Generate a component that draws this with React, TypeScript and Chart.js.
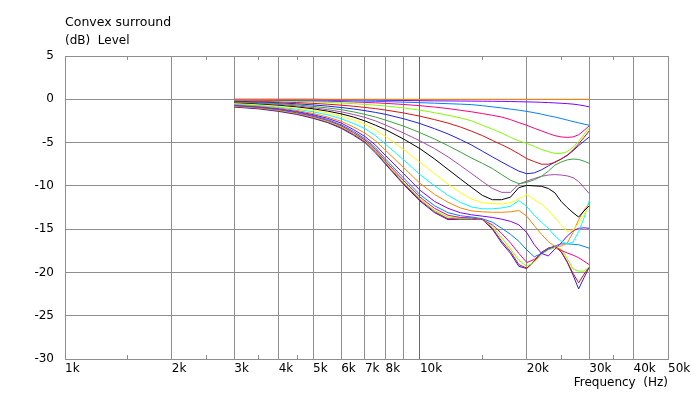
import React, { useEffect, useRef } from 'react';
import { Chart, registerables } from 'chart.js';

Chart.register(...registerables);

// ---------- data ----------
const FREQS = [3000, 3500, 4000, 4500, 5000, 5500, 6000, 6500, 7000, 7500, 8000, 9000, 10000, 11000, 12000, 13000, 14000, 15000, 16000, 17000, 18000, 19000, 20000, 21000, 22000, 23000, 24000, 25000, 26000, 27000, 28000, 29000, 30000];

const ANGLES = [0, 5, 10, 15, 20, 25, 30, 35, 40, 45, 50, 55, 60, 65, 70, 75, 80, 85, 90];

const deg0 = [0, 0, 0, 0, 0, 0, 0, 0, 0, 0, 0, 0, 0, 0, 0, 0, 0, 0, 0, 0, 0, 0, 0, 0, 0, 0, 0, 0, 0, 0, 0, 0, 0];
const deg5 = [0, 0, 0, 0, 0, -0.02, -0.04, -0.06, -0.08, -0.1, -0.12, -0.14, -0.16, -0.18, -0.19, -0.2, -0.21, -0.22, -0.23, -0.24, -0.26, -0.28, -0.3, -0.32, -0.35, -0.38, -0.42, -0.46, -0.5, -0.56, -0.64, -0.75, -0.88];
const deg10 = [-0.04, -0.05, -0.07, -0.09, -0.11, -0.13, -0.15, -0.18, -0.21, -0.24, -0.27, -0.33, -0.39, -0.45, -0.51, -0.56, -0.62, -0.74, -0.87, -1.0, -1.13, -1.26, -1.4, -1.55, -1.72, -1.9, -2.05, -2.22, -2.4, -2.57, -2.72, -2.87, -3.0];
const deg15 = [-0.06, -0.09, -0.12, -0.15, -0.18, -0.22, -0.26, -0.31, -0.36, -0.41, -0.47, -0.6, -0.74, -0.9, -1.07, -1.27, -1.45, -1.65, -1.85, -2.05, -2.35, -2.7, -3.0, -3.35, -3.65, -3.95, -4.2, -4.35, -4.4, -4.35, -4.1, -3.6, -3.05];
const deg20 = [-0.1, -0.14, -0.19, -0.24, -0.3, -0.36, -0.43, -0.51, -0.59, -0.68, -0.77, -1.0, -1.25, -1.55, -1.85, -2.15, -2.5, -3.0, -3.45, -3.9, -4.4, -4.8, -5.1, -5.45, -5.8, -6.05, -6.25, -6.25, -6.05, -5.55, -4.85, -4.05, -3.3];
const deg25 = [-0.16, -0.22, -0.3, -0.38, -0.47, -0.57, -0.68, -0.8, -0.94, -1.08, -1.24, -1.58, -1.95, -2.35, -2.75, -3.2, -3.7, -4.2, -4.75, -5.25, -5.75, -6.3, -6.85, -7.2, -7.5, -7.5, -7.3, -6.9, -6.45, -5.85, -5.15, -4.4, -3.65];
const deg30 = [-0.22, -0.3, -0.4, -0.52, -0.65, -0.79, -0.95, -1.12, -1.31, -1.52, -1.74, -2.25, -2.8, -3.4, -4.0, -4.65, -5.3, -6.0, -6.65, -7.25, -7.8, -8.3, -8.6, -8.5, -8.15, -7.7, -7.25, -6.9, -6.5, -5.95, -5.35, -4.85, -4.35];
const deg35 = [-0.28, -0.38, -0.5, -0.65, -0.82, -1.0, -1.2, -1.45, -1.75, -2.05, -2.4, -3.1, -3.85, -4.6, -5.35, -6.1, -6.8, -7.4, -8.0, -8.7, -9.35, -9.75, -9.6, -9.3, -8.9, -8.3, -7.6, -7.25, -7.0, -6.9, -6.95, -7.15, -7.4];
const deg40 = [-0.33, -0.45, -0.6, -0.77, -0.97, -1.2, -1.45, -1.75, -2.1, -2.5, -2.97, -3.9, -4.8, -5.7, -6.65, -7.65, -8.6, -9.5, -10.3, -10.75, -10.75, -9.8, -9.45, -9.15, -8.9, -8.75, -8.7, -8.75, -8.85, -9.05, -9.5, -10.2, -10.9];
const deg45 = [-0.38, -0.52, -0.68, -0.87, -1.1, -1.37, -1.68, -2.05, -2.5, -3.0, -3.5, -4.6, -5.7, -6.9, -8.1, -9.2, -10.2, -11.1, -11.6, -11.6, -11.3, -10.2, -9.95, -10.0, -10.05, -10.3, -10.8, -11.8, -12.5, -13.1, -13.6, -12.9, -12.3];
const deg50 = [-0.45, -0.6, -0.8, -1.02, -1.28, -1.58, -1.95, -2.4, -2.9, -3.55, -4.3, -5.8, -7.3, -8.6, -9.8, -10.8, -11.55, -11.95, -12.05, -12.1, -11.95, -11.5, -11.0, -11.6, -12.1, -12.8, -13.7, -14.5, -15.3, -15.1, -14.3, -13.3, -12.2];
const deg55 = [-0.52, -0.68, -0.9, -1.15, -1.45, -1.8, -2.25, -2.8, -3.4, -4.2, -5.2, -7.0, -8.7, -10.0, -11.1, -11.9, -12.45, -12.65, -12.65, -12.55, -12.35, -11.7, -12.4, -13.4, -14.2, -14.9, -15.8, -16.4, -16.7, -16.5, -15.3, -13.7, -11.7];
const deg60 = [-0.6, -0.77, -1.0, -1.3, -1.65, -2.05, -2.55, -3.2, -3.9, -4.8, -5.9, -7.9, -9.7, -11.0, -11.9, -12.55, -12.9, -13.0, -13.05, -13.05, -13.0, -12.85, -13.5, -14.6, -15.6, -16.45, -17.0, -16.95, -16.6, -15.4, -13.9, -12.8, -12.0];
const deg65 = [-0.65, -0.83, -1.08, -1.4, -1.78, -2.2, -2.75, -3.5, -4.3, -5.3, -6.5, -8.6, -10.5, -11.8, -12.6, -13.1, -13.35, -13.5, -13.65, -13.85, -14.1, -14.5, -15.4, -16.8, -17.8, -18.1, -17.3, -16.6, -15.8, -15.2, -14.9, -14.85, -14.9];
const deg70 = [-0.7, -0.88, -1.15, -1.48, -1.88, -2.35, -2.95, -3.7, -4.55, -5.6, -6.9, -9.1, -11.0, -12.3, -13.1, -13.45, -13.6, -13.8, -14.2, -14.9, -15.6, -16.4, -17.4, -18.2, -17.8, -17.3, -16.95, -16.7, -16.7, -16.75, -16.8, -17.0, -17.2];
const deg75 = [-0.75, -0.93, -1.2, -1.55, -1.97, -2.45, -3.05, -3.85, -4.7, -5.8, -7.15, -9.4, -11.3, -12.6, -13.4, -13.65, -13.7, -13.9, -14.5, -15.5, -16.6, -17.8, -18.85, -18.5, -17.8, -17.3, -17.0, -17.45, -17.75, -18.0, -18.3, -18.7, -19.1];
const deg80 = [-0.8, -0.98, -1.27, -1.62, -2.05, -2.55, -3.15, -3.95, -4.8, -5.95, -7.3, -9.6, -11.5, -12.85, -13.6, -13.75, -13.75, -13.9, -14.7, -16.0, -17.3, -18.6, -19.3, -18.8, -17.9, -17.4, -17.15, -17.3, -18.4, -19.6, -19.85, -19.85, -19.35];
const deg85 = [-0.85, -1.04, -1.33, -1.68, -2.12, -2.62, -3.25, -4.05, -4.9, -6.05, -7.4, -9.75, -11.65, -13.0, -13.8, -13.8, -13.8, -13.85, -14.9, -16.4, -17.6, -19.1, -19.5, -18.7, -17.7, -17.2, -17.0, -17.6, -18.8, -20.1, -21.2, -20.2, -19.35];
const deg90 = [-0.9, -1.1, -1.4, -1.75, -2.2, -2.7, -3.35, -4.15, -5.0, -6.2, -7.5, -9.85, -11.75, -13.1, -13.9, -13.85, -13.85, -13.9, -15.0, -16.6, -17.8, -19.3, -19.55, -18.7, -17.7, -17.2, -17.0, -17.6, -18.8, -20.3, -21.9, -20.6, -19.4];

const SERIES = [deg0, deg5, deg10, deg15, deg20, deg25, deg30, deg35, deg40, deg45, deg50, deg55, deg60, deg65, deg70, deg75, deg80, deg85, deg90];

const COLORS = ['#FF8000', '#8000FF', '#0080FF', '#FF0080', '#80FF00', '#DD1111', '#2020E0', '#3CA03C', '#A64CA6', '#000000', '#FFFF00', '#00FFFF', '#FF8000', '#8000FF', '#0080FF', '#FF0080', '#80FF00', '#DD1111', '#2020E0'];

const X_TICKS = [1000, 2000, 3000, 4000, 5000, 6000, 7000, 8000, 9000, 10000, 20000, 30000, 40000, 50000];
const X_TICK_LABELS = ['1k', '2k', '3k', '4k', '5k', '6k', '7k', '8k', '', '10k', '20k', '30k', '40k', '50k'];
const X_MINOR = [1500, 2500, 3500, 4500, 15000, 25000, 35000];
const Y_TICKS = [5, 0, -5, -10, -15, -20, -25, -30];

const TITLE = 'Convex surround';
const Y_TITLE = '(dB)  Level';
const X_TITLE = 'Frequency  (Hz)';

const GRID = '#8e8e8e';
const GRID_DARK = '#6a6a6a';
const FONT = 'DejaVu Sans';

const textPlugin = {
  id: 'textsAndMinor',
  beforeDatasetsDraw(chart: any) {
    const { ctx, chartArea, scales } = chart;
    ctx.save();
    ctx.strokeStyle = GRID;
    ctx.lineWidth = 1;
    ctx.beginPath();
    for (const v of X_MINOR) {
      const x = Math.round(scales.x.getPixelForValue(v)) + 0.5;
      ctx.moveTo(x, chartArea.top);
      ctx.lineTo(x, chartArea.top + 4);
      ctx.moveTo(x, chartArea.bottom);
      ctx.lineTo(x, chartArea.bottom - 4);
    }
    ctx.stroke();
    ctx.restore();
  },
  afterDraw(chart: any) {
    const { ctx, chartArea } = chart;
    ctx.save();
    ctx.fillStyle = '#000';
    ctx.textBaseline = 'alphabetic';
    ctx.textAlign = 'left';
    ctx.font = `12.5px "${FONT}"`;
    ctx.fillText(TITLE, chartArea.left, 26);
    ctx.font = `12px "${FONT}"`;
    ctx.fillText(Y_TITLE, chartArea.left, 44);
    ctx.textAlign = 'right';
    ctx.fillText(X_TITLE, chartArea.right, 386);
    ctx.restore();
  },
};

export default function App() {
  const ref = useRef<HTMLCanvasElement | null>(null);

  useEffect(() => {
    if (!ref.current) return;
    const datasets = SERIES.map((vals, i) => ({
      label: `${ANGLES[i]}°`,
      data: FREQS.map((f, j) => ({ x: f, y: vals[j] })),
      borderColor: COLORS[i],
      backgroundColor: COLORS[i],
      borderWidth: 1,
      pointRadius: 0,
      tension: 0,
      fill: false,
    }));

    const chart = new Chart(ref.current, {
      type: 'line',
      data: { datasets },
      options: {
        responsive: false,
        animation: false,
        devicePixelRatio: 1,
        layout: { padding: { left: 0, right: 24, top: 56, bottom: 0 } },
        plugins: {
          legend: { display: false },
          tooltip: { enabled: false },
        },
        scales: {
          x: {
            type: 'logarithmic',
            min: 1000,
            max: 50000,
            position: 'bottom',
            afterBuildTicks: (s: any) => {
              s.ticks = X_TICKS.map((v) => ({ value: v }));
            },
            afterFit: (s: any) => {
              s.height = 34;
              s.paddingLeft = 0;
              s.paddingRight = 0;
            },
            ticks: {
              autoSkip: false,
              maxRotation: 0,
              minRotation: 0,
              align: 'start',
              padding: 3,
              color: '#000',
              font: { family: FONT, size: 12 },
              callback: (_v: any, i: number) => X_TICK_LABELS[i],
            },
            grid: {
              color: (c: any) => (c.tick && c.tick.value === 10000 ? GRID_DARK : GRID),
              lineWidth: 1,
              drawTicks: false,
            },
            border: { display: true, color: GRID },
          },
          y: {
            type: 'linear',
            min: -30,
            max: 5,
            afterBuildTicks: (s: any) => {
              s.ticks = Y_TICKS.map((v) => ({ value: v }));
            },
            afterFit: (s: any) => {
              s.width = 65;
              s.paddingTop = 0;
              s.paddingBottom = 0;
            },
            ticks: {
              padding: 11,
              color: '#000',
              font: { family: FONT, size: 12 },
              callback: (v: any) => String(v),
            },
            grid: { color: GRID, lineWidth: 1, drawTicks: false },
            border: { display: true, color: GRID },
          },
        },
      } as any,
      plugins: [textPlugin],
    });

    return () => chart.destroy();
  }, []);

  return (
    <div style={{ position: 'fixed', left: 0, top: 0, width: 692, height: 393, background: '#fff' }}>
      <canvas ref={ref} width={692} height={393} style={{ display: 'block' }} />
    </div>
  );
}
